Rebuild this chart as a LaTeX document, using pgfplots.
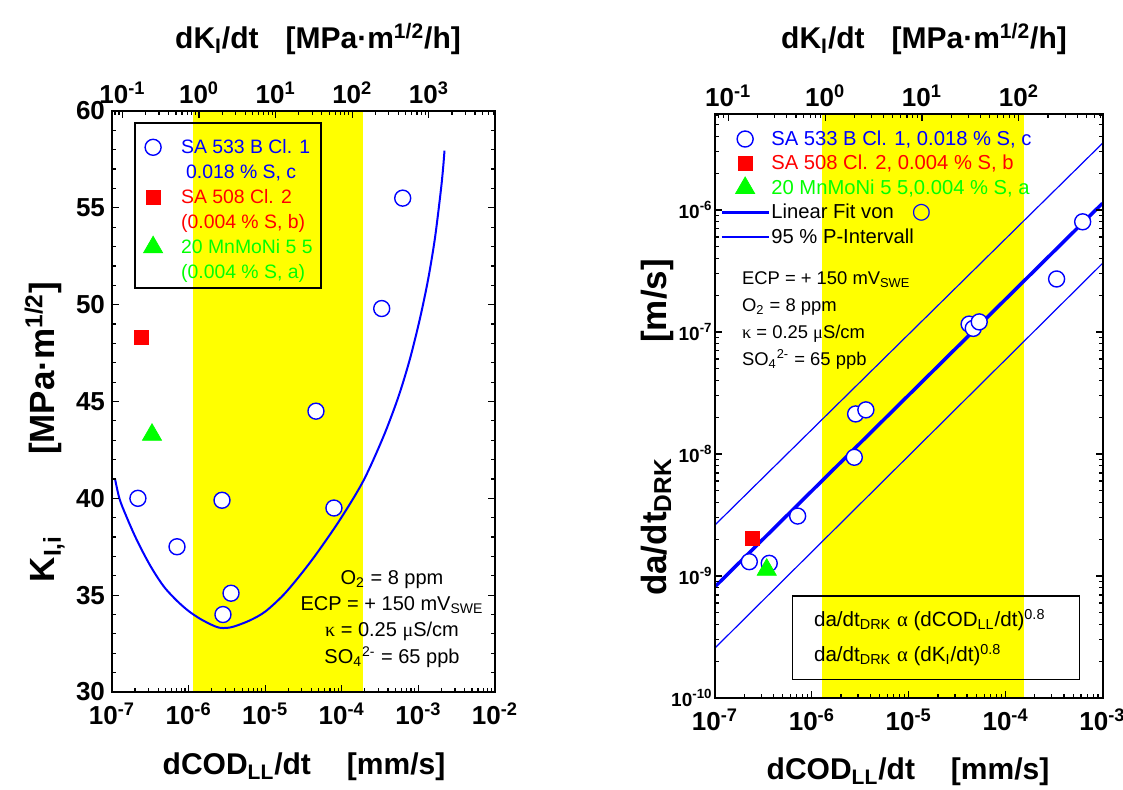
\documentclass[border=0pt]{standalone}
\usepackage{fontspec}
\setmainfont{Liberation Sans}
\newfontfamily\symf{Liberation Serif}
\newfontfamily\djv{DejaVu Sans}
\usepackage{pgfplots}
\pgfplotsset{compat=1.18}
\definecolor{myblue}{RGB}{0,0,255}
\definecolor{myred}{RGB}{255,0,0}
\definecolor{mygreen}{RGB}{0,255,0}
\definecolor{myyellow}{RGB}{255,255,0}
\pgfplotsset{
  base/.style={scale only axis, anchor=south west, axis on top,
    tick align=inside, major tick length=3.5pt, minor tick length=2pt,
    every tick/.style={black, line width=0.6pt},
    axis line style={line width=1pt},
    tick label style={font=\fontsize{13}{13}\selectfont\bfseries},
  },
  circ/.style={only marks, mark=*, mark size=4pt, mark options={draw=myblue, fill=white, line width=0.7pt}},
  sq/.style={only marks, mark=square*, mark size=3.5pt, color=myred},
  tri/.style={only marks, mark=triangle*, mark size=5.5pt, color=mygreen},
}
\newcommand{\ann}{\fontsize{10}{12}\selectfont}
\newcommand{\rann}{\fontsize{9.2}{12}\selectfont}
\newcommand{\lab}{\fontsize{15}{18}\selectfont\bfseries}
\newcommand{\ylab}{\fontsize{17.5}{20}\selectfont\bfseries}
\begin{document}
\begin{tikzpicture}
\useasboundingbox (0,0) rectangle (561.5pt,395pt);
% ================= LEFT =================
\begin{axis}[base, at={(56pt,49pt)}, width=191.5pt, height=290.5pt,
  xmode=log, xmin=1e-7, xmax=1e-2, ymin=30, ymax=60,
  xtick={1e-7,1e-6,1e-5,1e-4,1e-3,1e-2},
  xticklabels={10\textsuperscript{-7},10\textsuperscript{-6},10\textsuperscript{-5},10\textsuperscript{-4},10\textsuperscript{-3},10\textsuperscript{-2}},
  xticklabel style={yshift=-2pt},
  minor xtick={2e-7,3e-7,4e-7,5e-7,6e-7,7e-7,8e-7,9e-7,2e-6,3e-6,4e-6,5e-6,6e-6,7e-6,8e-6,9e-6,2e-5,3e-5,4e-5,5e-5,6e-5,7e-5,8e-5,9e-5,2e-4,3e-4,4e-4,5e-4,6e-4,7e-4,8e-4,9e-4,2e-3,3e-3,4e-3,5e-3,6e-3,7e-3,8e-3,9e-3},
  xtick pos=left,
  ytick={30,35,40,45,50,55,60}, yticklabels={30,35,40,45,50,55,60}, minor y tick num=4,
  legend image code/.code={\path (-8.65pt,0pt) (8.65pt,0pt); \draw[mark repeat=2,mark phase=2,#1] plot coordinates {(-8.65pt,3.2pt) (0pt,3.2pt) (8.65pt,3.2pt)};},
  legend style={at={(0.0601,0.9573)}, anchor=north west, draw=none, fill=none, inner sep=0pt,
    row sep=0pt, column sep=5.15pt, font=\fontsize{9.7}{12.5}\selectfont,
    nodes={inner sep=0pt, text depth={}}, cells={anchor=base west}},
]
\addplot[fill=myyellow, draw=none, forget plot] coordinates {(1.13e-6,30) (1.87e-4,30) (1.87e-4,60) (1.13e-6,60)} -- cycle;
\addplot[myblue, line width=1pt, smooth, forget plot] coordinates {
 (1.096e-7,41.0) (1.259e-7,39.95) (1.585e-7,38.95) (1.995e-7,38.05) (2.512e-7,37.25) (3.162e-7,36.52)
 (3.981e-7,35.88) (5.012e-7,35.33) (7.079e-7,34.7) (1e-6,34.18) (1.413e-6,33.78) (1.995e-6,33.47)
 (2.512e-6,33.32) (3.162e-6,33.31) (3.98e-6,33.39) (6.34e-6,33.7) (1e-5,34.15) (1.72e-5,35.0)
 (2.82e-5,36.0) (4.70e-5,37.15) (9.48e-5,38.9) (1.91e-4,40.9) (3.48e-4,43.17) (5.47e-4,45.23)
 (7.76e-4,47.2) (1.05e-3,49.3) (1.346e-3,51.35) (1.648e-3,53.46) (1.972e-3,55.96) (2.113e-3,57.16) (2.19e-3,57.95)};
\addplot[circ] coordinates {(2.18e-7,40.0) (7.06e-7,37.5) (2.73e-6,39.9) (3.58e-6,35.1) (2.81e-6,34.0) (4.6e-5,44.5) (7.9e-5,39.5) (3.32e-4,49.8) (6.24e-4,55.5)};
\addlegendentry{\textcolor{myblue}{\begin{tabular}[t]{@{}l@{}}SA 533 B Cl. 1\\\hspace{2.5pt}0.018 \% S, c\end{tabular}}}
\addplot[sq] coordinates {(2.39e-7,48.3)};
\addlegendentry{\textcolor{myred}{\begin{tabular}[t]{@{}l@{}}SA 508 Cl. 2\\(0.004 \% S, b)\end{tabular}}}
\addplot[tri] coordinates {(3.33e-7,43.28)};
\addlegendentry{\textcolor{mygreen}{\begin{tabular}[t]{@{}l@{}}20 MnMoNi 5 5\\(0.004 \% S, a)\end{tabular}}}
\end{axis}
\begin{axis}[base, at={(56pt,49pt)}, width=191.5pt, height=290.5pt,
  xmode=log, xmin=0.073, xmax=7300, ymin=0, ymax=1,
  axis x line*=top, axis y line=none,
  xtick={0.1,1,10,100,1000},
  xticklabels={10\textsuperscript{-1},10\textsuperscript{0},10\textsuperscript{1},10\textsuperscript{2},10\textsuperscript{3}},
  minor xtick={0.08,0.09,0.2,0.3,0.4,0.5,0.6,0.7,0.8,0.9,2,3,4,5,6,7,8,9,20,30,40,50,60,70,80,90,200,300,400,500,600,700,800,900,2000,3000,4000,5000,6000,7000},
]
\addplot[draw=none] coordinates {(1,0.5)};
\end{axis}
\draw[line width=0.6pt] (67.5pt,333.5pt) rectangle (160.5pt,251pt);
\node[anchor=base, font=\ann] at (196pt,102.5pt) {O\textsubscript{2} = 8 ppm};
\node[anchor=base, font=\ann] at (196pt,89.5pt) {ECP = + 150 mV\textsubscript{SWE}};
\node[anchor=base, font=\ann] at (196pt,76.5pt) {{\symf κ} = 0.25 {\symf μ}S/cm};
\node[anchor=base, font=\ann] at (196pt,63pt) {SO\textsubscript{4}\textsuperscript{2-} = 65 ppb};
\node[anchor=base, font=\lab] at (152pt,7.5pt) {dCOD\textsubscript{LL}/dt\hspace{1.2em}[mm/s]};
\node[anchor=base, font=\lab] at (159pt,370.75pt) {dK\textsubscript{I}/dt\hspace{0.9em}[MPa·m\textsuperscript{1/2}/h]};
\node[anchor=base, rotate=90, font=\ylab] at (27.5pt,179pt) {K\textsubscript{I,i}\hspace{2.3em}[MPa·m\textsuperscript{1/2}]};
% ================= RIGHT =================
\begin{axis}[base, at={(357.5pt,46pt)}, width=193.75pt, height=292pt,
  xmode=log, ymode=log, xmin=1e-7, xmax=1e-3, ymin=1e-10, ymax=6.12e-6,
  xtick={1e-7,1e-6,1e-5,1e-4,1e-3},
  xticklabels={10\textsuperscript{-7},10\textsuperscript{-6},10\textsuperscript{-5},10\textsuperscript{-4},10\textsuperscript{-3}},
  xticklabel style={yshift=-2pt},
  minor xtick={2e-7,3e-7,4e-7,5e-7,6e-7,7e-7,8e-7,9e-7,2e-6,3e-6,4e-6,5e-6,6e-6,7e-6,8e-6,9e-6,2e-5,3e-5,4e-5,5e-5,6e-5,7e-5,8e-5,9e-5,2e-4,3e-4,4e-4,5e-4,6e-4,7e-4,8e-4,9e-4},
  xtick pos=left,
  ytick={1e-10,1e-9,1e-8,1e-7,1e-6},
  yticklabels={10\textsuperscript{-10},10\textsuperscript{-9},10\textsuperscript{-8},10\textsuperscript{-7},10\textsuperscript{-6}},
  minor ytick={2e-10,3e-10,4e-10,5e-10,6e-10,7e-10,8e-10,9e-10,2e-9,3e-9,4e-9,5e-9,6e-9,7e-9,8e-9,9e-9,2e-8,3e-8,4e-8,5e-8,6e-8,7e-8,8e-8,9e-8,2e-7,3e-7,4e-7,5e-7,6e-7,7e-7,8e-7,9e-7,2e-6,3e-6,4e-6,5e-6,6e-6},
  yticklabel style={inner xsep=1pt, font=\fontsize{9.5}{10}\selectfont\bfseries},
  legend image code/.code={\path (-11.75pt,0pt) (11.75pt,0pt); \draw[mark repeat=2,mark phase=2,#1] plot coordinates {(-11.75pt,3.2pt) (0pt,3.2pt) (11.75pt,3.2pt)};},
  legend style={at={(0.0116,0.9777)}, anchor=north west, draw=none, fill=none, inner sep=0pt,
    row sep=0.25pt, column sep=0.5pt, font=\fontsize{10.1}{12}\selectfont,
    nodes={inner sep=0pt, text height=9pt, text depth=3pt}, cells={anchor=base west}},
]
\addplot[fill=myyellow, draw=none, forget plot] coordinates {(1.27e-6,1e-10) (1.55e-4,1e-10) (1.55e-4,6.12e-6) (1.27e-6,6.12e-6)} -- cycle;
\addplot[myblue, line width=0.6pt, forget plot] coordinates {(1e-7,2.62e-9) (1e-3,3.52e-6)};
\addplot[myblue, line width=0.6pt, forget plot] coordinates {(1e-7,2.57e-10) (1e-3,3.65e-7)};
\addplot[myblue, line width=1.75pt, forget plot] coordinates {(1e-7,8.17e-10) (1e-3,1.135e-6)};
\addplot[circ] coordinates {(2.26e-7,1.31e-9) (3.63e-7,1.27e-9) (7.13e-7,3.1e-9) (2.74e-6,9.4e-9) (2.83e-6,2.13e-8) (3.61e-6,2.3e-8) (4.2e-5,1.16e-7) (4.63e-5,1.07e-7) (5.34e-5,1.21e-7) (3.36e-4,2.72e-7) (6.24e-4,8.0e-7)};
\addlegendentry{\textcolor{myblue}{SA 533 B Cl. 1, 0.018 \% S, c}}
\addplot[sq] coordinates {(2.43e-7,2.04e-9)};
\addlegendentry{\textcolor{myred}{SA 508 Cl. 2, 0.004 \% S, b}}
\addplot[tri] coordinates {(3.42e-7,1.125e-9)};
\addlegendentry{\textcolor{mygreen}{20 MnMoNi 5 5,0.004 \% S, a}}
\addlegendimage{myblue, line width=1.75pt}
\addlegendentry{Linear Fit von\hspace{9pt}{\djv\fontsize{11}{11}\selectfont\textcolor{myblue}{○}}}
\addlegendimage{myblue, line width=0.6pt}
\addlegendentry{95 \% P-Intervall}
\end{axis}
\begin{axis}[base, at={(357.5pt,46pt)}, width=193.75pt, height=292pt,
  xmode=log, xmin=0.073, xmax=730, ymin=0, ymax=1,
  axis x line*=top, axis y line=none,
  xtick={0.1,1,10,100},
  xticklabels={10\textsuperscript{-1},10\textsuperscript{0},10\textsuperscript{1},10\textsuperscript{2}},
  minor xtick={0.08,0.09,0.2,0.3,0.4,0.5,0.6,0.7,0.8,0.9,2,3,4,5,6,7,8,9,20,30,40,50,60,70,80,90,200,300,400,500,600,700},
]
\addplot[draw=none] coordinates {(1,0.5)};
\end{axis}
\node[anchor=base west, font=\rann] at (367.5pt,252.5pt) {ECP = + 150 mV\textsubscript{SWE}};
\node[anchor=base west, font=\rann] at (367.5pt,239pt) {O\textsubscript{2} = 8 ppm};
\node[anchor=base west, font=\rann] at (367.5pt,225.5pt) {{\symf κ} = 0.25 {\symf μ}S/cm};
\node[anchor=base west, font=\rann] at (367.5pt,212pt) {SO\textsubscript{4}\textsuperscript{2-} = 65 ppb};
\draw[line width=0.6pt] (396.35pt,97pt) rectangle (539.65pt,55.35pt);
\node[anchor=base west, font=\fontsize{10.3}{12}\selectfont] at (403.5pt,81.65pt) {da/dt\textsubscript{DRK} {\symf α} (dCOD\textsubscript{LL}/dt)\textsuperscript{0.8}};
\node[anchor=base west, font=\fontsize{10.3}{12}\selectfont] at (403.5pt,64.15pt) {da/dt\textsubscript{DRK} {\symf α} (dK\textsubscript{I}/dt)\textsuperscript{0.8}};
\node[anchor=base, font=\lab] at (454pt,5pt) {dCOD\textsubscript{LL}/dt\hspace{1.2em}[mm/s]};
\node[anchor=base, font=\lab] at (462pt,370.7pt) {dK\textsubscript{I}/dt\hspace{0.9em}[MPa·m\textsuperscript{1/2}/h]};
\node[anchor=base, rotate=90, font=\ylab] at (333pt,181.25pt) {da/dt\textsubscript{DRK}\hspace{3.3em}[m/s]};
\end{tikzpicture}
\end{document}
